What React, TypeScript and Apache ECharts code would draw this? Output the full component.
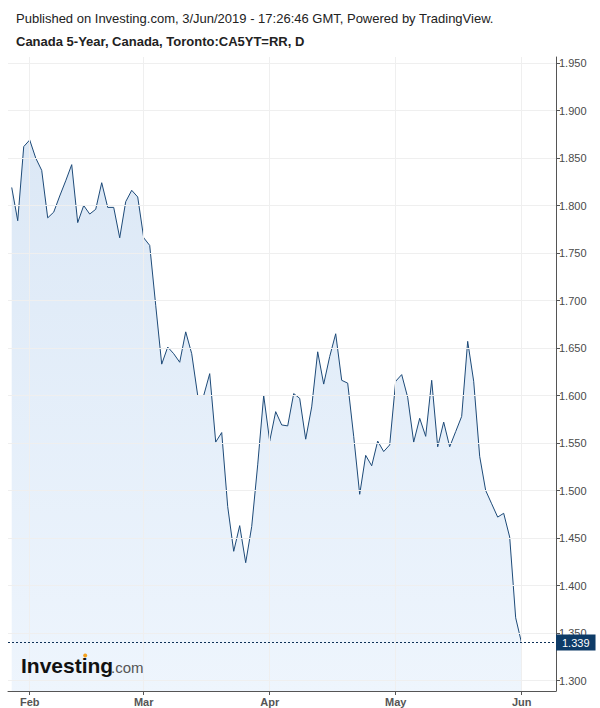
import React, { useEffect, useRef } from "react";
import * as echarts from "echarts";

// Daily closes (trading-day index 0..85)
const yields: number[] = [
  1.819, 1.784, 1.862, 1.869, 1.850, 1.837, 1.787, 1.793, 1.810, 1.826,
  1.843, 1.782, 1.800, 1.791, 1.796, 1.824, 1.798, 1.798, 1.766, 1.804,
  1.816, 1.809, 1.766, 1.758, 1.695, 1.633, 1.651, 1.644, 1.635, 1.667,
  1.644, 1.600, 1.600, 1.623, 1.551, 1.561, 1.483, 1.436, 1.463, 1.424,
  1.462, 1.527, 1.600, 1.552, 1.583, 1.569, 1.568, 1.602, 1.597, 1.554,
  1.588, 1.646, 1.612, 1.641, 1.665, 1.616, 1.613, 1.557, 1.496, 1.537,
  1.526, 1.552, 1.541, 1.548, 1.615, 1.622, 1.598, 1.551, 1.576, 1.557,
  1.616, 1.546, 1.572, 1.546, 1.562, 1.578, 1.657, 1.615, 1.536, 1.500,
  1.486, 1.472, 1.476, 1.451, 1.366, 1.339,
];

const monthTickIndex: number[] = [3, 22, 43, 64, 85];
const monthLabels: string[] = ["Feb", "Mar", "Apr", "May", "Jun"];
const yTicks: number[] = [1.3, 1.35, 1.4, 1.45, 1.5, 1.55, 1.6, 1.65, 1.7, 1.75, 1.8, 1.85, 1.9, 1.95];
const lastPrice = 1.339;

const headerLine1 = "Published on Investing.com, 3/Jun/2019 - 17:26:46 GMT, Powered by TradingView.";
const headerLine2 = "Canada 5-Year, Canada, Toronto:CA5YT=RR, D";

const FONT = "Arial, 'Liberation Sans', Helvetica, sans-serif";

export default function App() {
  const ref = useRef<HTMLDivElement>(null);

  useEffect(() => {
    document.body.style.margin = "0";
    if (!ref.current) return;
    const chart = echarts.init(ref.current, null, { renderer: "svg" });

    const gridColor = "#efefef";
    const axisColor = "#555";

    chart.setOption({
      animation: false,
      backgroundColor: "#ffffff",
      textStyle: { fontFamily: FONT },
      grid: { left: 8, top: 57, width: 548, height: 634, containLabel: false },
      xAxis: {
        type: "value",
        min: -0.62,
        max: 90.72,
        splitLine: { show: false },
        axisLine: { show: true, onZero: false, lineStyle: { color: axisColor, width: 1 } },
        axisTick: {
          show: true,
          customValues: monthTickIndex,
          length: 4,
          lineStyle: { color: axisColor },
        },
        axisLabel: {
          show: true,
          customValues: monthTickIndex,
          margin: 5,
          color: axisColor,
          fontSize: 11,
          fontWeight: "bold",
          fontFamily: FONT,
          formatter: (v: number) => {
            const k = monthTickIndex.indexOf(Math.round(v));
            return k >= 0 ? monthLabels[k] : "";
          },
        },
      },
      yAxis: {
        type: "value",
        position: "right",
        min: 1.28895,
        max: 1.95632,
        scale: true,
        splitLine: { show: false },
        axisLine: { show: true, onZero: false, lineStyle: { color: axisColor, width: 1 } },
        axisTick: {
          show: true,
          customValues: yTicks,
          length: 4,
          lineStyle: { color: axisColor },
        },
        axisLabel: {
          show: true,
          customValues: yTicks,
          margin: 3,
          color: "#4a4a4a",
          fontSize: 11,
          fontFamily: FONT,
          formatter: (v: number) => v.toFixed(3),
        },
      },
      series: [
        {
          type: "line",
          z: 1,
          data: [],
          silent: true,
          markLine: {
            silent: true,
            symbol: ["none", "none"],
            label: { show: false },
            lineStyle: { color: gridColor, type: "solid", width: 1 },
            data: [
              ...yTicks.map((v) => ({ yAxis: v })),
              ...monthTickIndex.map((i) => ({ xAxis: i })),
            ],
          },
        },
        {
          type: "line",
          z: 2,
          data: yields.map((v, i) => [i, v]),
          showSymbol: false,
          symbol: "none",
          lineStyle: { color: "#1d4a78", width: 1 },
          areaStyle: {
            origin: "start",
            color: new echarts.graphic.LinearGradient(0, 0, 0, 1, [
              { offset: 0, color: "rgba(35,110,195,0.23)" },
              { offset: 1, color: "rgba(35,125,225,0.11)" },
            ]),
          },
          markLine: {
            silent: true,
            symbol: ["none", "none"],
            lineStyle: { color: "#0e3158", type: [2, 2], width: 1 },
            label: {
              show: true,
              position: "end",
              distance: 0,
              formatter: lastPrice.toFixed(3),
              backgroundColor: "#0e3b67",
              color: "#ffffff",
              fontSize: 11,
              fontFamily: FONT,
              padding: [3, 6, 2, 6],
            },
            data: [{ yAxis: lastPrice }],
          },
        },
      ],
      graphic: [
        {
          type: "text",
          left: 16,
          top: 12,
          style: {
            text: headerLine1,
            fontSize: 13,
            fontFamily: FONT,
            fill: "#222",
          },
        },
        {
          type: "text",
          left: 16,
          top: 35,
          style: {
            text: headerLine2,
            fontSize: 13,
            fontWeight: "bold",
            fontFamily: FONT,
            fill: "#222",
          },
        },
        {
          type: "text",
          x: 21,
          y: 665,
          z: 10,
          style: {
            text: "Investing",
            fontSize: 21,
            fontWeight: "bold",
            fontFamily: FONT,
            fill: "#111",
            verticalAlign: "middle",
          },
        },
        {
          type: "circle",
          z: 11,
          shape: { cx: 85.2, cy: 655.5, r: 2 },
          style: { fill: "#f4a11e" },
        },
        {
          type: "text",
          x: 111,
          y: 667.5,
          z: 10,
          style: {
            text: ".com",
            fontSize: 15,
            fontFamily: FONT,
            fill: "#555",
            verticalAlign: "middle",
          },
        },
      ],
    });

    return () => {
      chart.dispose();
    };
  }, []);

  return <div ref={ref} style={{ width: 600, height: 708 }} />;
}
